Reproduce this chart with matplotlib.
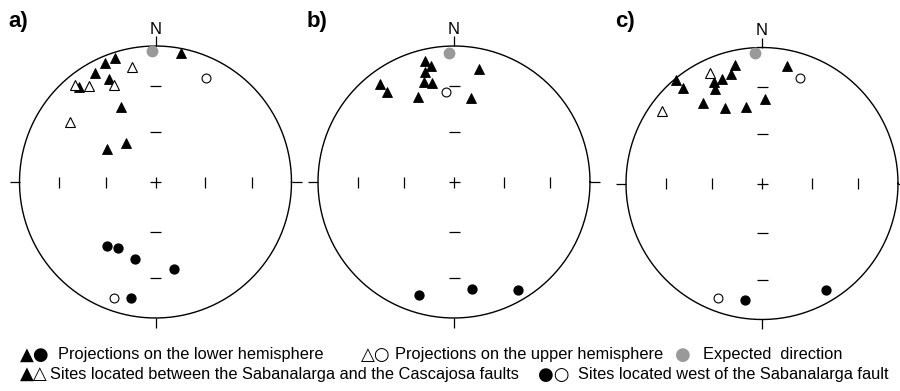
import numpy as np
import matplotlib
matplotlib.use("Agg")
import matplotlib.pyplot as plt

plt.rcParams['font.family'] = ['Liberation Sans', 'DejaVu Sans']

# projected positions (x east, y north) in units of the net radius
# panel a
a_exp = ([-0.026], [0.963])
a_low_tri = ([0.185, -0.298, -0.369, -0.445, -0.342, -0.560, -0.256, -0.217, -0.359],
             [0.946, 0.910, 0.873, 0.799, 0.755, 0.696, 0.549, 0.289, 0.243])
a_up_tri = ([-0.173, -0.590, -0.487, -0.307, -0.629],
            [0.846, 0.711, 0.704, 0.711, 0.441])
a_low_cir = ([-0.359, -0.274, -0.153, 0.134, -0.180],
             [-0.473, -0.488, -0.568, -0.642, -0.853])
a_up_cir = ([0.369, -0.305], [0.767, -0.853])

# panel b
b_exp = ([-0.037], [0.951])
b_low_tri = ([-0.211, -0.171, 0.184, -0.213, -0.546, -0.223, -0.162, -0.490, -0.267, 0.123],
             [0.892, 0.855, 0.833, 0.807, 0.721, 0.735, 0.730, 0.664, 0.627, 0.615])
b_up_tri = ([], [])
b_low_cir = ([-0.257, 0.130, 0.473], [-0.829, -0.785, -0.794])
b_up_cir = ([-0.059], [0.662])

# panel c
c_exp = ([-0.049], [0.962])
c_low_tri = ([-0.199, 0.182, -0.228, -0.635, -0.292, -0.353, -0.583, -0.343, 0.022, -0.434, -0.118, -0.272],
             [0.871, 0.864, 0.805, 0.761, 0.768, 0.744, 0.704, 0.693, 0.621, 0.594, 0.560, 0.553])
c_up_tri = ([-0.385, -0.733], [0.813, 0.533])
c_low_cir = ([-0.127, 0.468], [-0.857, -0.781])
c_up_cir = ([0.277, -0.324], [0.778, -0.840])

panels = [
    ("a)", a_exp, a_low_tri, a_up_tri, a_low_cir, a_up_cir, (155.5, 182)),
    ("b)", b_exp, b_low_tri, b_up_tri, b_low_cir, b_up_cir, (454, 182)),
    ("c)", c_exp, c_low_tri, c_up_tri, c_low_cir, c_up_cir, (762, 183.5)),
]

# grid radii for 30 and 60 deg inclination (equal area)
grid_r = [np.sqrt(2) * np.sin(np.radians(15)), np.sqrt(2) * np.sin(np.radians(30))]

W, H = 900, 391
R = 136.0
lim = 1.15

fig = plt.figure(figsize=(W / 100, H / 100), dpi=100)

for label, exp, low_tri, up_tri, low_cir, up_cir, (cx, cy) in panels:
    span = 2 * lim * R
    ax = fig.add_axes([(cx - span / 2) / W, (H - cy - span / 2) / H, span / W, span / H])
    ax.set_xlim(-lim, lim)
    ax.set_ylim(-lim, lim)
    ax.set_aspect('equal')
    ax.axis('off')

    t = np.linspace(0, 2 * np.pi, 400)
    ax.plot(np.cos(t), np.sin(t), color='black', lw=1.0)

    tk = 5.5 / R
    lk = dict(color='black', lw=0.9, solid_capstyle='butt')
    # centre cross
    ax.plot([-tk, tk], [0, 0], **lk)
    ax.plot([0, 0], [-tk, tk], **lk)
    for r in grid_r:
        for s in (-1, 1):
            ax.plot([s * r, s * r], [-tk, tk], **lk)
            ax.plot([-tk, tk], [s * r, s * r], **lk)
    # outer ticks
    ext = 1 + 10 / R
    ax.plot([1, ext], [0, 0], **lk)
    ax.plot([-1, -ext], [0, 0], **lk)
    ax.plot([0, 0], [1, ext], **lk)
    ax.plot([0, 0], [-1, -ext], **lk)

    ax.text(0, 1.125, "N", ha='center', va='center', fontsize=12, clip_on=False)

    ax.plot(*exp, 'o', ms=7.5, mfc='#999999', mec='#999999', clip_on=False)
    ax.plot(*low_tri, '^', ms=7, mfc='black', mec='black', mew=0.6, ls='none')
    ax.plot(*up_tri, '^', ms=7, mfc='white', mec='black', mew=0.8, ls='none')
    ax.plot(*low_cir, 'o', ms=6.4, mfc='black', mec='black', ls='none')
    ax.plot(*up_cir, 'o', ms=6.4, mfc='white', mec='black', mew=0.8, ls='none')

    fig.text((cx - 147) / W, 1 - 22 / H, label, fontsize=16, fontweight='bold',
             ha='left', va='center')

# legend
fs = 11.8
sym = dict(family='DejaVu Sans', fontsize=13, va='center')
fig.text(20 / W, 1 - 355 / H, "\u25B2\u25CF", **sym)
fig.text(58 / W, 1 - 355 / H, "Projections on the lower hemisphere", fontsize=fs, va='center')
fig.text(361 / W, 1 - 355 / H, "\u25B3\u25CB", **sym)
fig.text(395 / W, 1 - 355 / H, "Projections on the upper hemisphere", fontsize=fs, va='center')
fig.text(683 / W, 1 - 355 / H, "\u25CF", family='DejaVu Sans', fontsize=13, va='center',
         ha='center', color='#999999')
fig.text(703 / W, 1 - 355 / H, "Expected  direction", fontsize=fs, va='center')

fig.text(20 / W, 1 - 375 / H, "\u25B2\u25B3", **sym)
fig.text(50 / W, 1 - 375 / H, "Sites located between the Sabanalarga and the Cascajosa faults",
         fontsize=fs, va='center')
fig.text(538 / W, 1 - 375 / H, "\u25CF\u25CB", **sym)
fig.text(578 / W, 1 - 375 / H, "Sites located west of the Sabanalarga fault", fontsize=fs, va='center')

fig.savefig("out.png", dpi=100)
